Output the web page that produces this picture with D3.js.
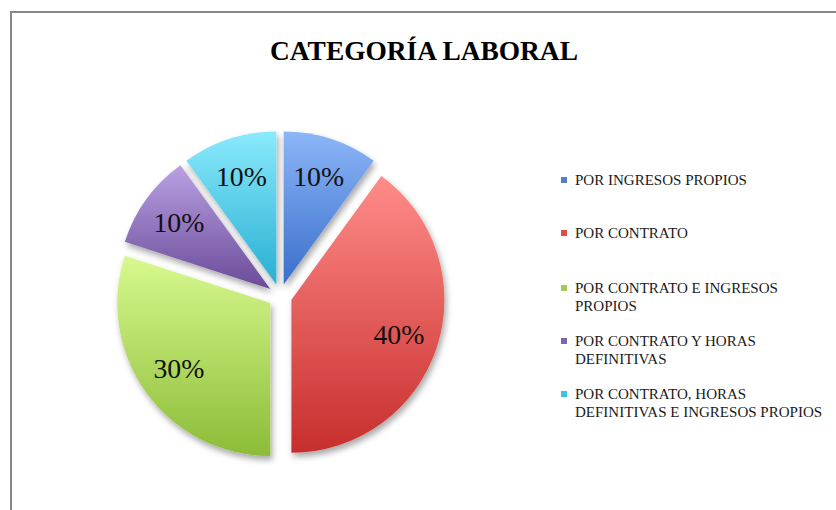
<!DOCTYPE html>
<html>
<head>
<meta charset="utf-8">
<script src="https://cdn.jsdelivr.net/npm/d3@7"></script>
<style>
  html, body { margin: 0; padding: 0; background: #fff; }
  svg { display: block; }
</style>
</head>
<body>
<div id="chart"></div>
<script>
// chart data
var categories = [
  'POR INGRESOS PROPIOS',
  'POR CONTRATO',
  'POR CONTRATO E INGRESOS PROPIOS',
  'POR CONTRATO Y HORAS DEFINITIVAS',
  'POR CONTRATO, HORAS DEFINITIVAS E INGRESOS PROPIOS'
];
var values = [10, 40, 30, 10, 10];
// legend lines (wrapped as in the original)
var legendLines = [
  ['POR INGRESOS PROPIOS'],
  ['POR CONTRATO'],
  ['POR CONTRATO E INGRESOS', 'PROPIOS'],
  ['POR CONTRATO Y HORAS', 'DEFINITIVAS'],
  ['POR CONTRATO, HORAS', 'DEFINITIVAS E INGRESOS PROPIOS']
];
var title = 'CATEGORÍA LABORAL';

// gradient stops per slice [top, bottom], legend swatch color
var topColors = ['#8cb6f8', '#ff8c8a', '#d8f98e', '#b9a0e2', '#8aeafc'];
var bottomColors = ['#3a6ecb', '#c72e2c', '#8cbc38', '#6a4b99', '#28afd3'];
var swatchColors = ['#4d80d4', '#d84f4c', '#9fcd55', '#8062b0', '#3ec3df'];

var serif = '"Liberation Serif", "DejaVu Serif", serif';

var width = 836, height = 510;
var cx = 280, cy = 296, radius = 153;
var explode = 12; // how far each slice is pulled out
var labelRadius = 113;

var svg = d3.select('#chart').append('svg')
  .attr('width', width)
  .attr('height', height);

// pick a font size so that a sample string spans the given width
function fitSize(sample, targetWidth, weight) {
  var t = svg.append('text')
    .style('font-family', serif)
    .style('font-weight', weight || 'normal')
    .style('font-size', '20px')
    .text(sample);
  var w = t.node().getComputedTextLength();
  t.remove();
  return 20 * targetWidth / w;
}

var titleSize = fitSize(title, 308, 'bold');
var labelSize = fitSize('10%', 51);
var legendSize = fitSize('POR INGRESOS PROPIOS', 172);

var defs = svg.append('defs');

// soft drop shadow like the office chart
var shadow = defs.append('filter')
  .attr('id', 'shadow')
  .attr('x', '-20%').attr('y', '-20%')
  .attr('width', '140%').attr('height', '140%');
shadow.append('feDropShadow')
  .attr('dx', 2).attr('dy', 4)
  .attr('stdDeviation', 3)
  .attr('flood-color', '#000')
  .attr('flood-opacity', 0.35);

values.forEach(function (v, i) {
  var g = defs.append('linearGradient')
    .attr('id', 'grad' + i)
    .attr('x1', 0).attr('y1', 0)
    .attr('x2', 0).attr('y2', 1);
  g.append('stop').attr('offset', '0%').attr('stop-color', topColors[i]);
  g.append('stop').attr('offset', '100%').attr('stop-color', bottomColors[i]);
});

// chart border (only left and top edges visible in the frame)
svg.append('rect')
  .attr('x', 11).attr('y', 12)
  .attr('width', 1000).attr('height', 800)
  .attr('fill', 'none')
  .attr('stroke', '#878787')
  .attr('stroke-width', 2);

// title
svg.append('text')
  .attr('x', 424)
  .attr('y', 60)
  .attr('text-anchor', 'middle')
  .style('font-family', serif)
  .style('font-weight', 'bold')
  .style('font-size', titleSize + 'px')
  .style('fill', '#000')
  .text(title);

// pie
var pie = d3.pie().sort(null).value(function (d) { return d; });
var arcs = pie(values);

var arc = d3.arc().innerRadius(0).outerRadius(radius);
var labelArc = d3.arc().innerRadius(labelRadius).outerRadius(labelRadius);

var total = d3.sum(values);
var fmt = d3.format('.0%');

var pieG = svg.append('g')
  .attr('transform', 'translate(' + cx + ',' + cy + ')');

var slices = pieG.selectAll('g.slice')
  .data(arcs)
  .enter().append('g')
  .attr('class', 'slice')
  .attr('transform', function (d) {
    var mid = (d.startAngle + d.endAngle) / 2;
    return 'translate(' + Math.sin(mid) * explode + ',' + (-Math.cos(mid) * explode) + ')';
  });

slices.append('path')
  .attr('d', arc)
  .attr('fill', function (d, i) { return 'url(#grad' + i + ')'; })
  .attr('filter', 'url(#shadow)');

slices.append('text')
  .attr('transform', function (d) {
    var c = labelArc.centroid(d);
    return 'translate(' + c[0] + ',' + (c[1] + 9) + ')';
  })
  .attr('text-anchor', 'middle')
  .style('font-family', serif)
  .style('font-size', labelSize + 'px')
  .style('fill', '#111')
  .text(function (d) { return fmt(d.value / total); });

// legend
var legendX = 561;
var rowTops = [185, 238, 293, 346, 399]; // baseline of the first line of each entry
var lineH = 18;

var legend = svg.append('g').attr('class', 'legend');
var items = legend.selectAll('g.item')
  .data(categories)
  .enter().append('g')
  .attr('class', 'item')
  .attr('transform', function (d, i) { return 'translate(' + legendX + ',' + rowTops[i] + ')'; });

items.append('rect')
  .attr('x', 0).attr('y', -8)
  .attr('width', 6).attr('height', 6)
  .attr('fill', function (d, i) { return swatchColors[i]; });

items.append('text')
  .style('font-family', serif)
  .style('font-size', legendSize + 'px')
  .style('fill', '#1a1a1a')
  .each(function (d, i) {
    var t = d3.select(this);
    legendLines[i].forEach(function (line, j) {
      t.append('tspan')
        .attr('x', 14)
        .attr('y', j * lineH)
        .text(line);
    });
  });
</script>
</body>
</html>
